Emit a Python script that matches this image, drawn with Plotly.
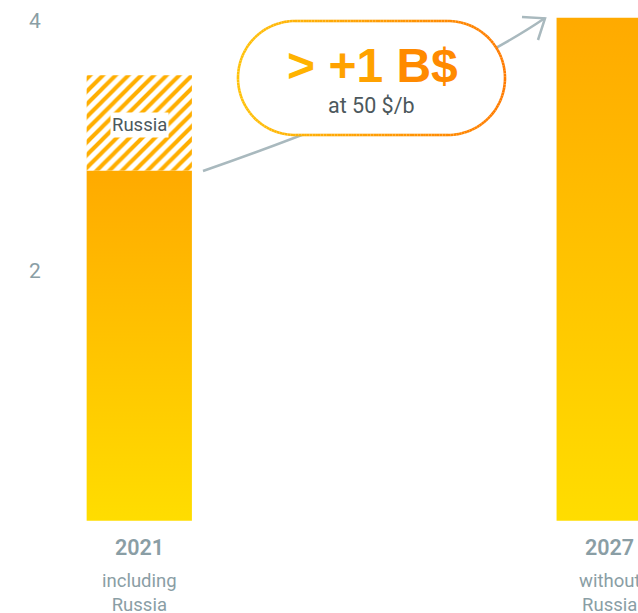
import math
import plotly.graph_objects as go

# --- data -------------------------------------------------------------
years = ["2021", "2027"]
notes = ["including<br>Russia", "without<br>Russia"]
x_pos = [0, 1]
core_volume = [2.8, 4.02]      # volume outside Russia
russia_volume = [0.76, 0.0]    # Russian share (2021 only)
y_ticks = [2, 4]
callout_main = "> +1 B$"
callout_sub = "at 50 $/b"

# --- styling ----------------------------------------------------------
W, H = 638, 613
HALF = 0.112
GREY = "#8a9ea5"
DARK = "#4c585c"
BAR_TOP = "#FFAA00"
BAR_BOTTOM = "#FFDD00"


def px(x):
    return x / W


def py(y):
    return 1 - y / H


fig = go.Figure()

for x, v in zip(x_pos, core_volume):
    fig.add_trace(go.Scatter(
        x=[x - HALF, x + HALF, x + HALF, x - HALF, x - HALF],
        y=[0, 0, v, v, 0],
        mode="lines", line=dict(width=0),
        fill="toself",
        fillgradient=dict(type="vertical", start=0, stop=v,
                          colorscale=[[0, BAR_BOTTOM], [1, BAR_TOP]]),
        hoverinfo="skip", showlegend=False,
    ))

for x, b, r in zip(x_pos, core_volume, russia_volume):
    if r <= 0:
        continue
    fig.add_trace(go.Scatter(
        x=[x - HALF, x + HALF, x + HALF, x - HALF, x - HALF],
        y=[b, b, b + r, b + r, b],
        mode="lines", line=dict(width=0),
        fill="toself", fillcolor="white",
        fillpattern=dict(shape="/", fgcolor="#FFAE00", bgcolor="white",
                         fgopacity=1, size=9, solidity=0.45),
        hoverinfo="skip", showlegend=False,
    ))
    fig.add_annotation(x=x, y=b + r / 2 - 0.02, yanchor="middle", text="Russia",
                       showarrow=False,
                       font=dict(family="Roboto", size=18.5, color=DARK),
                       bgcolor="white", borderpad=1)

# category labels below the bars
for x, yr, note in zip(x_pos, years, notes):
    fig.add_annotation(x=x, y=py(547), yref="paper", yanchor="middle", text=yr,
                       showarrow=False,
                       font=dict(family="Roboto", size=21.5, color=GREY, weight=600))
    fig.add_annotation(x=x, y=py(593), yref="paper", yanchor="middle", text=note,
                       showarrow=False,
                       font=dict(family="Roboto", size=18.5, color=GREY))

# connecting arrow (drawn first so the callout sits on top)
p0, p1, p2 = (203, 171), (444, 87), (545, 18)
shapes = [dict(
    type="path", xref="paper", yref="paper",
    path=f"M {px(p0[0])},{py(p0[1])} Q {px(p1[0])},{py(p1[1])} {px(p2[0])},{py(p2[1])}",
    line=dict(color="#a9b9be", width=2.5), layer="above",
), dict(
    type="path", xref="paper", yref="paper",
    path=f"M {px(522)},{py(17)} L {px(545)},{py(18.3)} L {px(538)},{py(40)}",
    line=dict(color="#a9b9be", width=2.5), layer="above",
)]

# pill-shaped callout with a yellow-to-orange outline
cx, cy, hw, r = 371.5, 78, 133.5, 57
xl, xr = cx - hw + r, cx + hw - r


def outline_point(t):
    """Point on the stadium outline, t in [0, 1] going clockwise from top-left."""
    straight = xr - xl
    arc = math.pi * r
    total = 2 * straight + 2 * arc
    s = t * total
    if s < straight:
        return xl + s, cy - r
    s -= straight
    if s < arc:
        a = -math.pi / 2 + s / r
        return xr + r * math.cos(a), cy + r * math.sin(a)
    s -= arc
    if s < straight:
        return xr - s, cy + r
    s -= straight
    a = math.pi / 2 + s / r
    return xl + r * math.cos(a), cy + r * math.sin(a)


N = 240
pts = [outline_point(i / N) for i in range(N + 1)]
fill_path = "M " + " L ".join(f"{px(a)},{py(b)}" for a, b in pts) + " Z"
shapes.append(dict(type="path", xref="paper", yref="paper", path=fill_path,
                   fillcolor="white", line=dict(width=0), layer="above"))


def mix(c1, c2, f):
    a = [int(c1[i:i + 2], 16) for i in (1, 3, 5)]
    b = [int(c2[i:i + 2], 16) for i in (1, 3, 5)]
    return "#" + "".join(f"{round(a[k] + (b[k] - a[k]) * f):02x}" for k in range(3))


for i in range(N):
    (x1, y1), (x2, y2) = pts[i], pts[i + 1]
    f = ((x1 + x2) / 2 - (cx - hw)) / (2 * hw)
    shapes.append(dict(type="line", xref="paper", yref="paper",
                       x0=px(x1), y0=py(y1), x1=px(x2), y1=py(y2),
                       line=dict(color=mix("#FFC20A", "#FF7B00", f), width=2.6),
                       layer="above"))

fig.add_annotation(
    x=px(372), y=py(65), xref="paper", yref="paper", yanchor="middle",
    showarrow=False,
    text=("<span style='color:#FFB300'>&gt;</span> "
          "<span style='color:#FFA200'>+1</span> "
          "<span style='color:#FF8A00'>B$</span>"),
    font=dict(family="Liberation Sans", size=48, weight="bold"),
)
fig.add_annotation(x=px(371), y=py(105), xref="paper", yref="paper",
                   yanchor="middle", showarrow=False,
                   text=callout_sub, font=dict(family="Roboto", size=21.5, color=DARK))

fig.update_layout(
    width=W, height=H,
    margin=dict(l=0, r=0, t=0, b=0),
    paper_bgcolor="white", plot_bgcolor="white",
    showlegend=False, shapes=shapes,
    xaxis=dict(range=[-0.2964, 1.0613], visible=False, fixedrange=True),
    yaxis=dict(range=[-0.738, 4.162], tickvals=y_ticks,
               ticklabelposition="inside", ticklabelstandoff=26,
               tickfont=dict(family="Roboto", size=21, color=GREY),
               showgrid=False, zeroline=False, showline=False, ticks="",
               fixedrange=True),
)

fig.write_html("out.html")
